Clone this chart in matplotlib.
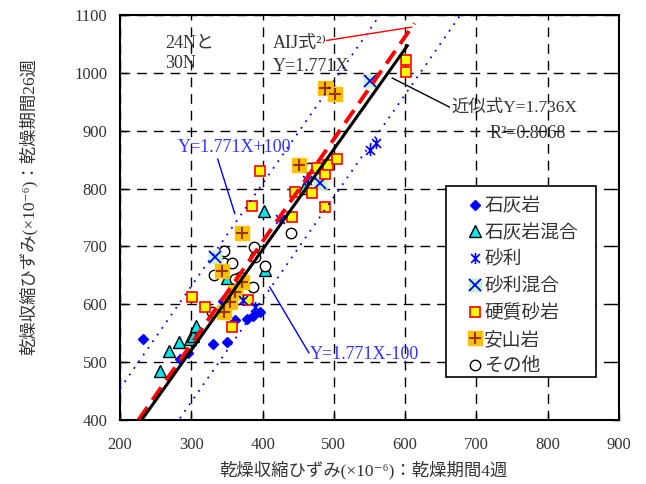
import matplotlib
matplotlib.use("Agg")
import matplotlib.pyplot as plt
import numpy as np
from matplotlib.path import Path
from matplotlib.patches import Rectangle

plt.rcParams['font.family'] = ['Liberation Serif', 'DejaVu Serif', 'Noto Sans CJK JP']

# ---- data ----
limestone_x = [232, 284, 295, 330, 350, 344, 361, 378, 386, 396]
limestone_y = [540, 505, 516, 531, 535, 606, 573, 574, 580, 587]

limestone_mix_x = [256, 269, 283, 298, 302, 306, 350, 402, 404, 458]
limestone_mix_y = [485, 519, 535, 540, 545, 562, 645, 761, 659, 801]

gravel_x = [550, 559, 372, 425, 462, 390]
gravel_y = [866, 878, 607, 747, 815, 595]

gravel_mix_x = [550, 480, 333]
gravel_mix_y = [986, 809, 681]

hard_sandstone_x = [601, 601, 397, 476, 488, 492, 504, 446, 469, 488, 385, 441, 301, 319, 379, 357]
hard_sandstone_y = [1022, 1001, 830, 835, 825, 840, 851, 794, 792, 768, 770, 751, 612, 595, 607, 561]

andesite_x = [487, 501, 451, 371, 343, 371, 361, 354, 346]
andesite_y = [973, 963, 840, 723, 657, 638, 621, 604, 586]

other_x = [346, 346, 357, 332, 369, 361, 388, 390, 403, 386, 440, 329, 465, 478]
other_y = [692, 671, 671, 650, 647, 643, 699, 681, 666, 630, 724, 587, 835, 835]

labels = ['石灰岩', '石灰岩混合', '砂利', '砂利混合', '硬質砂岩', '安山岩', 'その他']

aij_slope = 1.771
fit_slope = 1.736
band = 100
aij_range = [226, 613]
fit_range = [231, 603]

x_ticks = [200, 300, 400, 500, 600, 700, 800, 900]
y_ticks = [400, 500, 600, 700, 800, 900, 1000, 1100]

# ---- figure ----
fig = plt.figure(figsize=(6.46, 4.84), dpi=100)
ax = fig.add_axes([120/646, 1-420/484, 499/646, 405/484])
ax.set_xlim(200, 900)
ax.set_ylim(400, 1100)
ax.set_xticks(x_ticks)
ax.set_yticks(y_ticks)
ax.tick_params(direction='in', labelsize=12, top=False, right=True, colors='black',
               labelcolor='#333333', length=5, width=1)
ax.tick_params(axis='x', pad=12)
ax.tick_params(axis='y', pad=9)
ax.grid(True, color='black', linestyle=(0, (7, 5)), linewidth=1)
for s in ax.spines.values():
    s.set_linewidth(1.5)

# asterisk marker
ast = Path([(0, -1), (0, 1), (-0.8, -0.8), (0.8, 0.8), (-0.8, 0.8), (0.8, -0.8)],
           [Path.MOVETO, Path.LINETO, Path.MOVETO, Path.LINETO, Path.MOVETO, Path.LINETO])

h_lime, = ax.plot(limestone_x, limestone_y, 'D', ms=5.5, color='#0000ff', mec='#0000ff', ls='none', zorder=3)
h_limemix, = ax.plot(limestone_mix_x, limestone_mix_y, '^', ms=8.5, mfc='#00e5ee', mec='black', mew=1, ls='none', zorder=3)
h_other, = ax.plot(other_x, other_y, 'o', ms=7.5, mfc='white', mec='black', mew=1, ls='none', zorder=3)
h_gmix_bg, = ax.plot(gravel_mix_x, gravel_mix_y, 's', ms=9.5, mfc='#c8f5c8', mec='none', ls='none', zorder=3)
h_gmix_x, = ax.plot(gravel_mix_x, gravel_mix_y, 'x', ms=8.5, mec='#0000ff', mew=1.3, ls='none', zorder=3)
h_hard, = ax.plot(hard_sandstone_x, hard_sandstone_y, 's', ms=7, mfc='#ffff00', mec='#ff0000', mew=1.2, ls='none', zorder=3)
h_and_bg, = ax.plot(andesite_x, andesite_y, 's', ms=10.5, mfc='#ffc000', mec='#ffc000', ls='none', zorder=3)
h_and_p, = ax.plot(andesite_x, andesite_y, '+', ms=8.5, mec='#993300', mew=1.5, ls='none', zorder=3)
h_grav, = ax.plot(gravel_x, gravel_y, marker=ast, ms=8, mec='#0000ff', mfc='none', mew=1.2, ls='none', zorder=3)

# lines
xa = np.array(aij_range, dtype=float)
ax.plot(xa, aij_slope * xa, color='#ff0000', lw=2.8, ls=(0, (4, 2.2)), zorder=5)
xf = np.array(fit_range, dtype=float)
ax.plot(xf, fit_slope * xf, color='black', lw=2.2, zorder=6)
xb = np.array([200, 900], dtype=float)
ax.plot(xb, aij_slope * xb + band, color='#0000ff', lw=1.3, ls=(0, (1, 3.5)), zorder=4)
ax.plot(xb, aij_slope * xb - band, color='#0000ff', lw=1.3, ls=(0, (1, 3.5)), zorder=4)

# annotations
tc = '#333333'
ax.text(264, 1051, '24Nと', fontsize=13, color=tc, va='center', ha='left')
ax.text(264, 1017, '30N', fontsize=13, color=tc, va='center', ha='left')
ax.text(414, 1051, 'AIJ式²⁾', fontsize=13, color=tc, va='center', ha='left')
ax.text(414, 1011, 'Y=1.771X', fontsize=13, color=tc, va='center', ha='left')
ax.plot([490, 609], [1056, 1079], color='#ff0000', lw=1, zorder=4)

ax.text(665, 939, '近似式Y=1.736X', fontsize=12.5, color=tc, va='center', ha='left')
ax.text(719, 896, 'R²=0.8068', fontsize=13, color=tc, va='center', ha='left')
ax.plot([582, 662], [991, 941], color='black', lw=1, zorder=4)

ax.text(281, 871, 'Y=1.771X+100', fontsize=13, color='#3333ff', va='center', ha='left')
ax.plot([337, 361], [851, 757], color='#0000ff', lw=1, zorder=4)
ax.text(466, 514, 'Y=1.771X-100', fontsize=13, color='#3333ff', va='center', ha='left')
ax.plot([410, 465], [630, 516], color='#0000ff', lw=1, zorder=4)

ax.set_xlabel('乾燥収縮ひずみ(×10⁻⁶)：乾燥期間4週', fontsize=12.5, color=tc)
ax.set_ylabel('乾燥収縮ひずみ(×10⁻⁶)：乾燥期間26週', fontsize=12.5, color=tc)
ax.xaxis.set_label_coords(0.487, -0.100)
ax.yaxis.set_label_coords(-0.166, 0.526)

# legend frame drawn separately
ax.add_patch(Rectangle((0.6533, 0.1062), 0.3006, 0.4716, transform=ax.transAxes,
                       facecolor='white', edgecolor='black', lw=1.2, zorder=9))
leg = ax.legend([h_lime, h_limemix, h_grav, (h_gmix_bg, h_gmix_x), h_hard, (h_and_bg, h_and_p), h_other],
                labels, loc='upper left', bbox_to_anchor=(0.6926, 0.548), fontsize=13.5,
                frameon=False, handlelength=1.0, handletextpad=0.0, labelspacing=0.48,
                borderpad=0, borderaxespad=0)
for t in leg.get_texts():
    t.set_color(tc)
leg.set_zorder(10)

fig.savefig('out.png', dpi=100)
